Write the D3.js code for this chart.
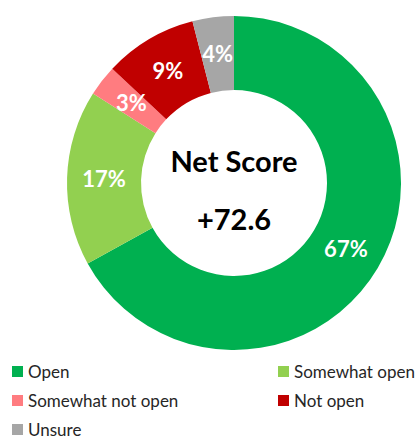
<!DOCTYPE html>
<html>
<head>
<meta charset="utf-8">
<script src="https://cdn.jsdelivr.net/npm/d3@7"></script>
<style>
  body { margin: 0; background: #fff; }
  svg text { font-family: Lato, "Open Sans", sans-serif; }
</style>
</head>
<body>
<div id="chart"></div>
<script>
//data
var categories = ["Open", "Somewhat open", "Somewhat not open", "Not open", "Unsure"];
var values = [67, 17, 3, 9, 4];
var colors = ["#00B050", "#92D050", "#FF7C80", "#C00000", "#A6A6A6"];
var centerTitle = "Net Score";
var centerValue = "+72.6";

var width = 420, height = 439;
var cx = 234, cy = 183, outerR = 167, innerR = 93;

var svg = d3.select("#chart").append("svg")
    .attr("width", width).attr("height", height);

var table = categories.map(function(c, i){ return {name: c, value: values[i], color: colors[i]}; });

//pie starts at 12 o'clock and goes clockwise, keep data order
var pie = d3.pie().sort(null).value(function(d){ return d.value; });
var arc = d3.arc().innerRadius(innerR).outerRadius(outerR);

var g = svg.append("g").attr("transform", "translate(" + cx + "," + cy + ")");

g.selectAll("path")
    .data(pie(table))
    .enter().append("path")
    .attr("d", arc)
    .attr("fill", function(d){ return d.data.color; });

//slice labels
g.selectAll("text.lbl")
    .data(pie(table))
    .enter().append("text")
    .attr("class", "lbl")
    .attr("transform", function(d){ return "translate(" + arc.centroid(d) + ")"; })
    .attr("text-anchor", "middle")
    .attr("dy", "0.36em")
    .attr("fill", "#fff")
    .style("font-weight", "bold")
    .style("font-size", "22px")
    .text(function(d){ return d.data.value + "%"; });

//center text
g.append("text")
    .attr("text-anchor", "middle")
    .attr("y", -21)
    .attr("dy", "0.36em")
    .style("font-weight", "bold")
    .style("font-size", "29px")
    .attr("fill", "#000")
    .text(centerTitle);
g.append("text")
    .attr("text-anchor", "middle")
    .attr("y", 37)
    .attr("dy", "0.36em")
    .style("font-weight", "bold")
    .style("font-size", "29px")
    .attr("fill", "#000")
    .text(centerValue);

//legend, two columns
var legend = svg.selectAll("g.leg")
    .data(table)
    .enter().append("g")
    .attr("class", "leg")
    .attr("transform", function(d, i){
        var col = i % 2, row = Math.floor(i / 2);
        return "translate(" + (col == 0 ? 12 : 278) + "," + (372 + row * 29) + ")";
    });
legend.append("rect")
    .attr("x", 0).attr("y", -6)
    .attr("width", 11).attr("height", 11)
    .attr("fill", function(d){ return d.color; });
legend.append("text")
    .attr("x", 16)
    .attr("dy", "0.36em")
    .style("font-size", "17px")
    .attr("fill", "#262626")
    .text(function(d){ return d.name; });
</script>
</body>
</html>
